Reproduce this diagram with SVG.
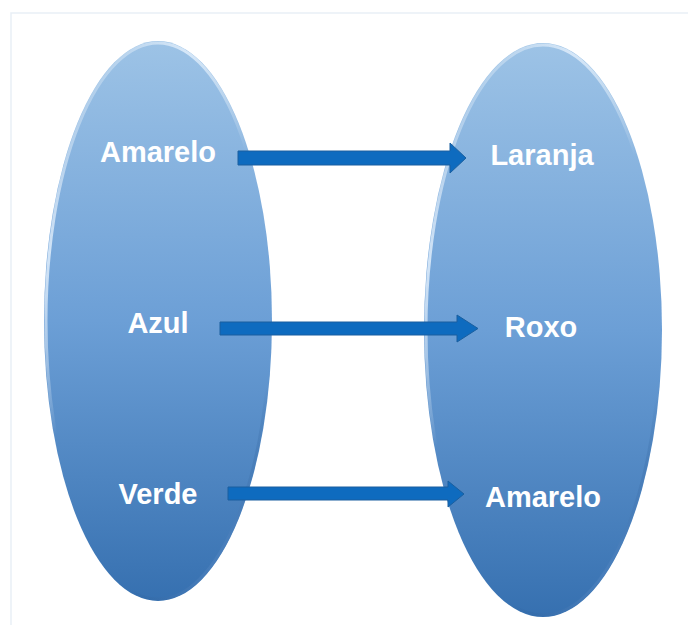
<svg xmlns="http://www.w3.org/2000/svg" width="688" height="634" viewBox="0 0 688 634">
<defs>
<linearGradient id="fillG" x1="0" y1="0" x2="0" y2="1">
<stop offset="0" stop-color="#9dc3e6"/>
<stop offset="0.5" stop-color="#6c9fd6"/>
<stop offset="1" stop-color="#3670b0"/>
</linearGradient>
<linearGradient id="bevel" x1="0.2" y1="0" x2="0.8" y2="1">
<stop offset="0" stop-color="#ffffff" stop-opacity="0"/>
<stop offset="0.2" stop-color="#dcebfa" stop-opacity="0.9"/>
<stop offset="0.45" stop-color="#ffffff" stop-opacity="0"/>
<stop offset="0.8" stop-color="#1f4f88" stop-opacity="0"/>
<stop offset="1" stop-color="#6a9fdc" stop-opacity="0.9"/>
</linearGradient>
<style>
.ell{fill:url(#fillG);}
.bev{fill:none;stroke:url(#bevel);stroke-width:3;}
.lbl{font-family:"Liberation Sans",Arial,sans-serif;font-weight:bold;font-size:29px;fill:#ffffff;text-anchor:middle;}
.arr{fill:#0e6bbf;stroke:#1a5f9f;stroke-width:1;}
.frame{stroke:#e9eff6;stroke-width:1.5;fill:none;}
</style>
</defs>
<path class="frame" d="M11,625 V13 H688"/>
<g id="left-set">
<ellipse class="ell" cx="158" cy="321" rx="114" ry="280"/>
<ellipse class="bev" cx="158" cy="321" rx="112" ry="278"/>
</g>
<g id="right-set">
<ellipse class="ell" cx="543" cy="330" rx="119" ry="287"/>
<ellipse class="bev" cx="543" cy="330" rx="117" ry="285"/>
</g>
<g id="node-amarelo-l"><text class="lbl" x="158" y="162">Amarelo</text></g>
<g id="node-azul"><text class="lbl" x="158" y="333">Azul</text></g>
<g id="node-verde"><text class="lbl" x="158" y="504">Verde</text></g>
<g id="node-laranja"><text class="lbl" x="542" y="165">Laranja</text></g>
<g id="node-roxo"><text class="lbl" x="541" y="337">Roxo</text></g>
<g id="node-amarelo-r"><text class="lbl" x="543" y="507">Amarelo</text></g>
<g id="connectors">
<path class="arr" d="M238,151 H450 V143 L466,158 L450,173 V165 H238 Z"/>
<path class="arr" d="M220,322 H457 V315 L478,328.5 L457,342 V335 H220 Z"/>
<path class="arr" d="M228,487 H448 V481 L464,494 L448,507 V500 H228 Z"/>
</g>
</svg>
